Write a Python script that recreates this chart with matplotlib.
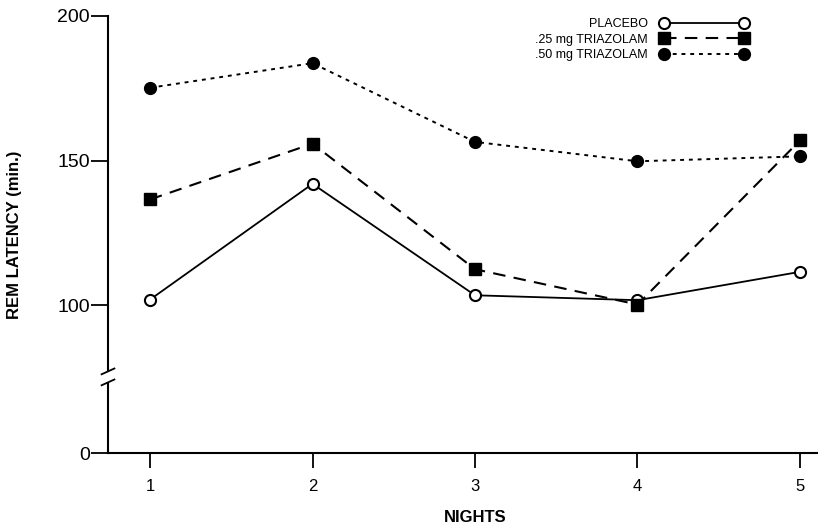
import matplotlib
matplotlib.use("Agg")
import matplotlib.pyplot as plt
import matplotlib.transforms as mtransforms

# datos
nights = [1, 2, 3, 4, 5]
placebo = [102, 142, 103.5, 101.8, 111.6]
triazolam_25 = [136.6, 155.9, 112.5, 100.3, 157.0]
triazolam_50 = [175.2, 183.7, 156.5, 149.8, 151.5]

y_ticks = [0, 100, 150, 200]
y_tick_labels = ['0', '100', '150', '200']

# el eje esta cortado entre 0 y 100: el 0 se dibuja en esta posicion
ZERO_POS = 49.0


def to_axis(v):
    """Convierte un valor real a la escala cortada del grafico"""
    return v if v >= 100 else ZERO_POS + v * (100 - ZERO_POS) / 100


plt.rcParams['font.family'] = ['Liberation Sans', 'DejaVu Sans']

fig = plt.figure(figsize=(8.18, 5.32), dpi=100)
ax = fig.add_axes([108 / 818, 1 - 453 / 532, 710 / 818, 437 / 532])

ax.plot(nights, placebo, color='black', lw=1.3, marker='o', ms=8,
        mfc='white', mec='black', mew=1.5, label='PLACEBO')
ax.plot(nights, triazolam_25, color='black', lw=1.5, ls=(0, (6, 4)),
        marker='s', ms=8, mfc='black', mec='black', label='.25 mg TRIAZOLAM')
ax.plot(nights, triazolam_50, color='black', lw=1.4, ls=(0, (2, 2.5)),
        marker='o', ms=8.5, mfc='black', mec='black', label='.50 mg TRIAZOLAM')

ax.set_xlim(1 - 42 / 162.5, 5 + 18 / 162.5)
ax.set_ylim(ZERO_POS, 200)
ax.set_xticks(nights)
ax.set_xticklabels([str(n) for n in nights], fontsize=12)
ax.set_yticks([to_axis(v) for v in y_ticks])
ax.set_yticklabels(y_tick_labels, fontsize=14)
ax.tick_params(axis='y', length=12, width=1.3, pad=1)
ax.tick_params(axis='x', length=11, width=1.3, pad=8)

for s in ['top', 'right', 'left']:
    ax.spines[s].set_visible(False)
ax.spines['bottom'].set_linewidth(1.5)

# eje y con corte
trans = mtransforms.blended_transform_factory(ax.transAxes, ax.transData)
ax.plot([0, 0], [200, 77.5], color='black', lw=1.5, transform=trans, clip_on=False)
ax.plot([0, 0], [73.0, ZERO_POS], color='black', lw=1.5, transform=trans, clip_on=False)
for y0 in [76.2, 72.4]:
    ax.plot([-0.009, 0.009], [y0, y0 + 2.0], color='black', lw=1.3,
            transform=trans, clip_on=False)

ax.set_ylabel('REM LATENCY (min.)', fontsize=12, fontweight='bold')
ax.yaxis.set_label_coords(-0.121, 0.5)
ax.set_xlabel('NIGHTS', fontsize=12, fontweight='bold')
ax.xaxis.set_label_coords(0.517, -0.13)

leg = ax.legend(loc='upper right', bbox_to_anchor=(0.91, 1.01), frameon=False,
                numpoints=2, markerfirst=False, handlelength=7.0, fontsize=9,
                labelspacing=0.3, handletextpad=1.0, borderpad=0)

fig.savefig('out.png', dpi=100)
